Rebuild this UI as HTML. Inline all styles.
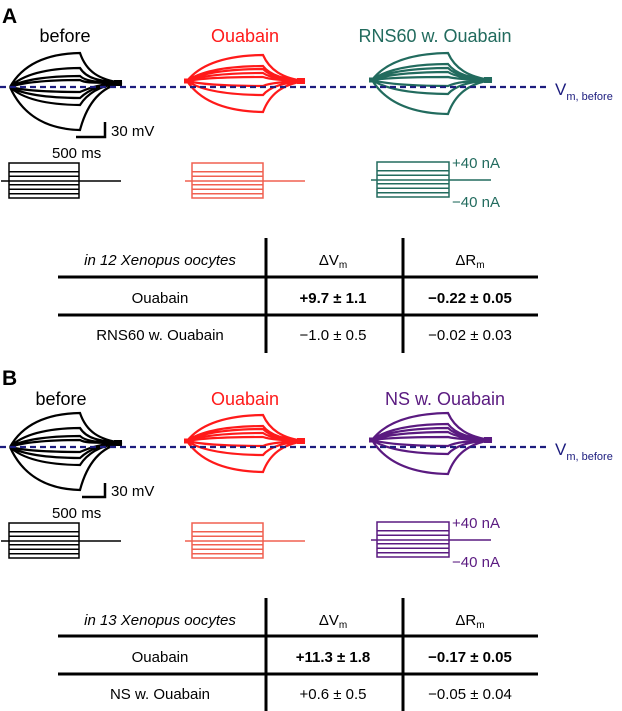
<!DOCTYPE html>
<html><head><meta charset="utf-8"><style>
html,body{margin:0;padding:0;background:#fff;width:622px;height:711px;overflow:hidden}
svg{display:block}
text{font-family:"Liberation Sans",sans-serif}
</style></head><body>
<svg id="s" width="622" height="711" viewBox="0 0 622 711" xmlns="http://www.w3.org/2000/svg">
<g id="g"></g>
<!-- Panel A -->
<text x="2" y="23" font-size="21" font-weight="bold">A</text>
<text x="65" y="42" font-size="18" text-anchor="middle">before</text>
<text x="245" y="42" font-size="18" text-anchor="middle" fill="#ff1a1a">Ouabain</text>
<text x="435" y="42" font-size="18" text-anchor="middle" fill="#226b5e">RNS60 w. Ouabain</text>
<text x="555" y="95" font-size="17" fill="#1c1c7e">V<tspan font-size="11" dy="5">m, before</tspan></text>
<path d="M105 122 V137 H76" fill="none" stroke="#000" stroke-width="2.5"/>
<text x="111" y="136" font-size="15">30 mV</text>
<text x="52" y="158" font-size="15">500 ms</text>
<text x="452" y="168" font-size="15" fill="#226b5e">+40 nA</text>
<text x="452" y="207" font-size="15" fill="#226b5e">−40 nA</text>
<!-- Table A -->
<g stroke="#000" stroke-width="3"><line x1="58" y1="277" x2="538" y2="277"/><line x1="58" y1="315" x2="538" y2="315"/><line x1="266" y1="238" x2="266" y2="353"/><line x1="403" y1="238" x2="403" y2="353"/></g>
<g font-size="15" text-anchor="middle">
<text x="160" y="265" font-style="italic">in 12 Xenopus oocytes</text>
<text x="333" y="265">ΔV<tspan font-size="10" dy="3">m</tspan></text>
<text x="470" y="265">ΔR<tspan font-size="10" dy="3">m</tspan></text>
<text x="160" y="303">Ouabain</text>
<text x="333" y="303" font-weight="bold">+9.7 ± 1.1</text>
<text x="470" y="303" font-weight="bold">−0.22 ± 0.05</text>
<text x="160" y="340">RNS60 w. Ouabain</text>
<text x="333" y="340">−1.0 ± 0.5</text>
<text x="470" y="340">−0.02 ± 0.03</text>
</g>
<!-- Panel B -->
<text x="2" y="385" font-size="21" font-weight="bold">B</text>
<text x="61" y="405" font-size="18" text-anchor="middle">before</text>
<text x="245" y="405" font-size="18" text-anchor="middle" fill="#ff1a1a">Ouabain</text>
<text x="445" y="405" font-size="18" text-anchor="middle" fill="#5a1a80">NS w. Ouabain</text>
<text x="555" y="455" font-size="17" fill="#1c1c7e">V<tspan font-size="11" dy="5">m, before</tspan></text>
<path d="M105 483 V497 H82" fill="none" stroke="#000" stroke-width="2.5"/>
<text x="111" y="496" font-size="15">30 mV</text>
<text x="52" y="518" font-size="15">500 ms</text>
<text x="452" y="528" font-size="15" fill="#5a1a80">+40 nA</text>
<text x="452" y="567" font-size="15" fill="#5a1a80">−40 nA</text>
<!-- Table B -->
<g stroke="#000" stroke-width="3"><line x1="58" y1="636" x2="538" y2="636"/><line x1="58" y1="674" x2="538" y2="674"/><line x1="266" y1="598" x2="266" y2="711"/><line x1="403" y1="598" x2="403" y2="711"/></g>
<g font-size="15" text-anchor="middle">
<text x="160" y="625" font-style="italic">in 13 Xenopus oocytes</text>
<text x="333" y="625">ΔV<tspan font-size="10" dy="3">m</tspan></text>
<text x="470" y="625">ΔR<tspan font-size="10" dy="3">m</tspan></text>
<text x="160" y="662">Ouabain</text>
<text x="333" y="662" font-weight="bold">+11.3 ± 1.8</text>
<text x="470" y="662" font-weight="bold">−0.17 ± 0.05</text>
<text x="160" y="699">NS w. Ouabain</text>
<text x="333" y="699">+0.6 ± 0.5</text>
<text x="470" y="699">−0.05 ± 0.04</text>
</g>
</svg>
<script>
var g=document.getElementById('g'),NS='http://www.w3.org/2000/svg';
function el(t,a){var e=document.createElementNS(NS,t);for(var k in a)e.setAttribute(k,a[k]);g.appendChild(e);return e;}
function trace(x0,xp,x1,y0,amps,c,endOff,stub){
  var d='';
  amps.forEach(function(a){
    var L=xp-x0,R=x1-xp;
    d+='M'+x0+' '+y0+' C'+(x0+L*0.15)+' '+(y0+a*0.55)+' '+(x0+L*0.45)+' '+(y0+a*0.98)+' '+xp+' '+(y0+a)+
       ' C'+(xp+R*0.15)+' '+(y0+a*0.45)+' '+(xp+R*0.45)+' '+(y0+a*0.1+endOff)+' '+x1+' '+(y0+endOff)+' ';
  });
  el('path',{d:d,fill:'none',stroke:c,'stroke-width':2.2});
  if(stub)el('line',{x1:x0-3,y1:y0,x2:x0+6,y2:y0,stroke:c,'stroke-width':5});
  el('line',{x1:x1-8,y1:y0+endOff,x2:x1,y2:y0+endOff,stroke:c,'stroke-width':6});
}
function stim(x0,x1,xl0,xl1,yt,yb,ym,c){
  el('rect',{x:x0,y:yt,width:x1-x0,height:yb-yt,fill:'none',stroke:c,'stroke-width':1.5});
  [0.25,0.38,0.62,0.75,0.88].forEach(function(f){var y=yt+(yb-yt)*f;el('line',{x1:x0,y1:y,x2:x1,y2:y,stroke:c,'stroke-width':1.5});});
  el('line',{x1:xl0,y1:ym,x2:xl1,y2:ym,stroke:c,'stroke-width':1.5});
}
var pan=[{o:0,c3:'#226b5e'},{o:360,c3:'#5a1a80'}];
pan.forEach(function(p){
  var o=p.o;
  trace(10,80,122,87+o,[-34,-19,-11,-7,5,11,18,43],'#000',-4,false);
  trace(187,263,305,81+o,[-26,-15,-12,-8,-4,5,14,31],'#ff1a1a',0,true);
  trace(372,448,492,80+o,[-27,-16,-12,-8,-3,6,14,34],p.c3,0,true);
  el('line',{x1:0,y1:87+o,x2:550,y2:87+o,stroke:'#1c1c7e','stroke-width':2.2,'stroke-dasharray':'6,4'});
  stim(9,79,1,121,163+o,198+o,181+o,'#000');
  stim(192,263,185,305,163+o,198+o,181+o,'#f06050');
  stim(377,449,371,491,162+o,197+o,180+o,p.c3);
});
</script>
</body></html>
